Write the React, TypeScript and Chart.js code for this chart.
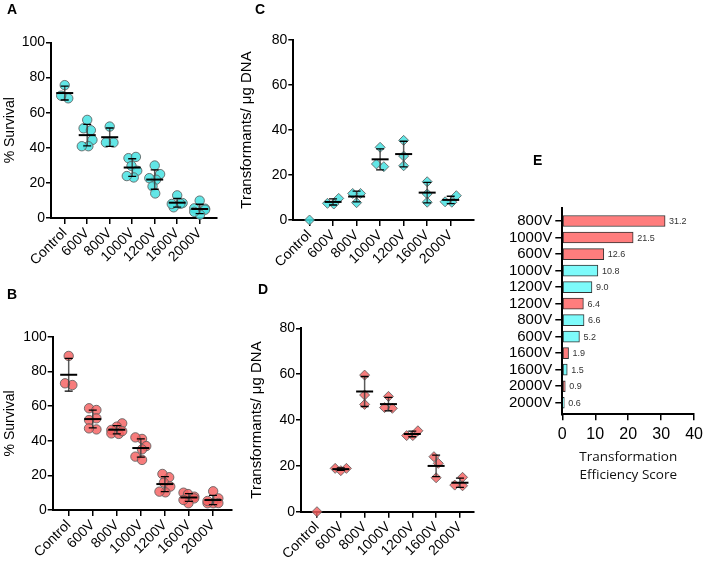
import React, { useEffect, useRef } from 'react';
import { Chart, registerables } from 'chart.js';

Chart.register(...registerables);

// ---------------- DATA ----------------
const groups = ['Control', '600V', '800V', '1000V', '1200V', '1600V', '2000V'];

const survivalA = [
  [75.7, 68.2, 69.7],
  [55.9, 51.1, 50.0, 44.5, 40.9, 40.9],
  [52.1, 43.0, 43.0],
  [34.1, 34.8, 29.7, 26.9, 23.1, 23.9],
  [29.9, 25.0, 21.8, 22.7, 18.0, 14.0],
  [12.9, 8.5, 8.1, 6.1, 8.0],
  [9.9, 5.3, 4.7, 1.9, 5.5, 3.5],
];

const survivalB = [
  [88.9, 72.1, 73.1],
  [58.7, 57.7, 52.9, 51.9, 46.5, 47.1],
  [50.0, 48.1, 46.2, 44.2, 43.9, 45.5],
  [41.0, 41.9, 36.9, 35.0, 30.8, 28.9],
  [18.9, 20.8, 15.8, 13.5, 10.2, 10.6],
  [10.0, 9.2, 7.7, 6.7, 3.9, 5.8],
  [10.8, 6.7, 3.9, 3.9, 4.0, 5.2],
];

const transformC = [
  [0],
  [9.6, 7.1, 7.4],
  [11.8, 11.8, 7.7],
  [32.3, 23.7, 24.9],
  [35.4, 28.4, 24.1],
  [17.0, 11.6, 7.9],
  [10.8, 7.9, 8.1],
];

const transformD = [
  [0],
  [18.9, 17.9, 18.9],
  [59.6, 50.9, 46.8],
  [50.3, 45.1, 45.4],
  [35.3, 33.2, 33.2],
  [24.0, 21.1, 14.8],
  [15.0, 11.3, 11.6],
];

const survivalTicks = [0, 20, 40, 60, 80, 100];
const transformTicks = [0, 20, 40, 60, 80];

const scoreLabels = ['800V', '1000V', '600V', '1000V', '1200V', '1200V', '800V', '600V', '1600V', '1600V', '2000V', '2000V'];
const scoreValues = [31.2, 21.5, 12.6, 10.8, 9.0, 6.4, 6.6, 5.2, 1.9, 1.5, 0.9, 0.6];
const scoreStrain = ['B', 'B', 'B', 'A', 'A', 'B', 'A', 'A', 'B', 'A', 'B', 'A'];
const scoreTicks = [0, 10, 20, 30, 40];

// ---------------- STYLE / LAYOUT ----------------
const FONT = '"Liberation Sans", Arial, Helvetica, sans-serif';
const CYAN = 'rgba(70,226,226,0.85)';
const RED = 'rgba(245,95,95,0.82)';
const PT_BORDER = 'rgba(95,95,95,0.85)';
const BAR_RED = '#ff7d7d';
const BAR_CYAN = '#7dfbfb';

type Box = { left: number; top: number; w: number; h: number };
type Area = { l: number; r: number; t: number; b: number };

function meanSd(vals: number[]) {
  const n = vals.length;
  const m = vals.reduce((a, b) => a + b, 0) / n;
  const sd = n > 1 ? Math.sqrt(vals.reduce((a, v) => a + (v - m) * (v - m), 0) / (n - 1)) : 0;
  return { m, sd, n };
}

// deterministic beeswarm layout (pixels), re-centred and kept narrow
function swarm(vals: number[], pxX: number, pxY: number, D: number, maxOff: number): number[] {
  const idx = vals.map((_, i) => i).sort((a, b) => vals[a] - vals[b]);
  const px: number[] = new Array(vals.length).fill(0);
  const placed: number[] = [];
  let side = -1;
  idx.forEach((pi) => {
    const py = vals[pi] * pxY;
    const cands = [0];
    placed.forEach((pj) => {
      const dy = py - vals[pj] * pxY;
      if (Math.abs(dy) < D) {
        const dx = Math.sqrt(D * D - dy * dy);
        cands.push(px[pj] + dx, px[pj] - dx);
      }
    });
    const ok = cands.filter((cx) =>
      placed.every((pj) => {
        const dx = cx - px[pj];
        const dy = py - vals[pj] * pxY;
        return dx * dx + dy * dy >= D * D - 0.01;
      })
    );
    ok.sort((a, b) => Math.abs(a) - Math.abs(b) || (side < 0 ? a - b : b - a));
    px[pi] = ok[0];
    if (ok[0] !== 0) side = -Math.sign(ok[0]);
    placed.push(pi);
  });
  let comp: number[] = [];
  const flush = () => {
    if (comp.length > 1) {
      const mx = comp.reduce((a, pi) => a + px[pi], 0) / comp.length;
      comp.forEach((pi) => (px[pi] -= mx));
    }
    comp = [];
  };
  idx.forEach((pi, k) => {
    if (k > 0 && (vals[pi] - vals[idx[k - 1]]) * pxY >= D) flush();
    comp.push(pi);
  });
  flush();
  return px.map((v) => Math.max(-maxOff, Math.min(maxOff, v)) / pxX);
}

const errorBarPlugin = (data: number[][]) => ({
  id: 'errorBars',
  afterDatasetsDraw(chart: any) {
    const { ctx } = chart;
    const x = chart.scales.x;
    const y = chart.scales.y;
    ctx.save();
    data.forEach((vals, i) => {
      if (vals.length < 2) return;
      const { m, sd } = meanSd(vals);
      const cx = x.getPixelForValue(i);
      const yt = y.getPixelForValue(m + sd);
      const yb = y.getPixelForValue(Math.max(m - sd, 0));
      const ym = y.getPixelForValue(m);
      ctx.lineCap = 'butt';
      ctx.strokeStyle = 'rgba(60,60,60,0.85)';
      ctx.lineWidth = 1.5;
      ctx.beginPath();
      ctx.moveTo(cx, yt);
      ctx.lineTo(cx, yb);
      ctx.stroke();
      ctx.strokeStyle = '#000';
      ctx.lineWidth = 1.3;
      ctx.beginPath();
      ctx.moveTo(cx - 4, yt);
      ctx.lineTo(cx + 4, yt);
      ctx.moveTo(cx - 4, yb);
      ctx.lineTo(cx + 4, yb);
      ctx.stroke();
      ctx.lineWidth = 2;
      ctx.beginPath();
      ctx.moveTo(cx - 8.5, ym);
      ctx.lineTo(cx + 8.5, ym);
      ctx.stroke();
    });
    ctx.restore();
  },
});

type DotPanel = {
  box: Box;
  area: Area;
  xMin: number;
  xMax: number;
  yMax: number;
  yTicks: number[];
  data: number[][];
  color: string;
  style: string;
  radius: number;
  title: string;
  titleSize: number;
  titleOffset: number;
};

function dotConfig(p: DotPanel) {
  const pxX = (p.area.r - p.area.l) / (p.xMax - p.xMin);
  const pxY = (p.area.b - p.area.t) / p.yMax;
  const points: { x: number; y: number }[] = [];
  p.data.forEach((vals, i) => {
    const off = swarm(vals, pxX, pxY, p.radius * 1.6, p.radius * 1.15);
    vals.forEach((v, k) => points.push({ x: i + off[k], y: v }));
  });
  const yWidth = p.area.l - p.box.left;
  const xHeight = p.box.top + p.box.h - p.area.b;
  return {
    type: 'scatter',
    data: {
      datasets: [
        {
          data: points,
          pointStyle: p.style,
          pointRadius: p.radius,
          backgroundColor: p.color,
          borderColor: PT_BORDER,
          borderWidth: 1,
          clip: false,
        },
      ],
    },
    options: {
      responsive: false,
      animation: false,
      events: [],
      layout: {
        padding: {
          left: 0,
          top: p.area.t - p.box.top,
          right: p.box.left + p.box.w - p.area.r,
          bottom: 0,
        },
      },
      plugins: { legend: { display: false }, tooltip: { enabled: false } },
      scales: {
        x: {
          type: 'linear',
          min: p.xMin,
          max: p.xMax,
          offset: false,
          afterBuildTicks: (s: any) => {
            s.ticks = groups.map((_, i) => ({ value: i }));
          },
          afterFit: (s: any) => {
            s.height = xHeight;
          },
          ticks: {
            callback: (v: number) => groups[v] ?? '',
            autoSkip: false,
            minRotation: 45,
            maxRotation: 45,
            padding: 1,
            color: '#000',
            font: { family: FONT, size: 14 },
          },
          grid: { offset: false, drawOnChartArea: false, drawTicks: true, tickLength: 6, color: '#000', lineWidth: 1.5 },
          border: { color: '#000', width: 2 },
        },
        y: {
          type: 'linear',
          min: 0,
          max: p.yMax,
          afterBuildTicks: (s: any) => {
            s.ticks = p.yTicks.map((v) => ({ value: v }));
          },
          afterFit: (s: any) => {
            s.width = yWidth;
          },
          ticks: {
            padding: 1,
            color: '#000',
            font: { family: FONT, size: 14 },
          },
          grid: { drawOnChartArea: false, drawTicks: true, tickLength: 5, color: '#000', lineWidth: 1.5 },
          border: { color: '#000', width: 2 },
          title: {
            display: true,
            text: p.title,
            color: '#000',
            font: { family: FONT, size: p.titleSize },
            padding: { top: p.titleOffset, bottom: 0 },
          },
        },
      },
    },
    plugins: [errorBarPlugin(p.data)],
  };
}

function barConfig(box: Box, area: Area, yMin: number, yMax: number) {
  const yWidth = area.l - box.left;
  const xHeight = box.top + box.h - area.b;
  const valueLabels = {
    id: 'valueLabels',
    afterDatasetsDraw(chart: any) {
      const { ctx } = chart;
      const meta = chart.getDatasetMeta(0);
      ctx.save();
      ctx.font = `9px ${FONT}`;
      ctx.fillStyle = '#333';
      ctx.textBaseline = 'middle';
      ctx.textAlign = 'left';
      meta.data.forEach((bar: any, i: number) => {
        ctx.fillText(scoreValues[i].toFixed(1), bar.x + 4, bar.y + 0.5);
      });
      ctx.restore();
    },
  };
  return {
    type: 'bar',
    data: {
      datasets: [
        {
          data: scoreValues.map((v, i) => ({ x: v, y: i })),
          backgroundColor: scoreStrain.map((s) => (s === 'B' ? BAR_RED : BAR_CYAN)),
          borderColor: '#333',
          borderWidth: 1,
          borderSkipped: false,
          barThickness: 11,
        },
      ],
    },
    options: {
      indexAxis: 'y',
      responsive: false,
      animation: false,
      events: [],
      layout: {
        padding: {
          left: 0,
          top: area.t - box.top,
          right: box.left + box.w - area.r,
          bottom: 0,
        },
      },
      plugins: { legend: { display: false }, tooltip: { enabled: false } },
      scales: {
        x: {
          type: 'linear',
          min: 0,
          max: 40,
          offset: false,
          afterBuildTicks: (s: any) => {
            s.ticks = scoreTicks.map((v) => ({ value: v }));
          },
          afterFit: (s: any) => {
            s.height = xHeight;
          },
          ticks: { padding: 5, color: '#000', font: { family: FONT, size: 16 }, maxRotation: 0 },
          grid: { offset: false, drawOnChartArea: false, drawTicks: true, tickLength: 6, color: '#000', lineWidth: 1.5 },
          border: { color: '#000', width: 2 },
          title: {
            display: true,
            text: ['Transformation', 'Efficiency Score'],
            color: '#111',
            font: { family: '"Open Sans", Lato, sans-serif', size: 13.5, lineHeight: 1.356 },
            padding: { top: 0, bottom: 5.8 },
          },
        },
        y: {
          type: 'linear',
          reverse: true,
          min: yMin,
          max: yMax,
          offset: false,
          afterBuildTicks: (s: any) => {
            s.ticks = scoreLabels.map((_, i) => ({ value: i }));
          },
          afterFit: (s: any) => {
            s.width = yWidth;
          },
          ticks: {
            callback: (v: number) => scoreLabels[v] ?? '',
            autoSkip: false,
            padding: 3,
            color: '#000',
            font: { family: FONT, size: 15 },
          },
          grid: { offset: false, drawOnChartArea: false, drawTicks: true, tickLength: 7, color: '#000', lineWidth: 1.5 },
          border: { color: '#000', width: 2 },
        },
      },
    },
    plugins: [valueLabels],
  };
}

function ChartBox({ box, makeConfig }: { box: Box; makeConfig: () => any }) {
  const ref = useRef<HTMLCanvasElement | null>(null);
  useEffect(() => {
    if (!ref.current) return;
    const chart = new Chart(ref.current, makeConfig());
    return () => chart.destroy();
  }, []);
  return (
    <canvas
      ref={ref}
      width={box.w}
      height={box.h}
      style={{ position: 'absolute', left: box.left, top: box.top, width: box.w, height: box.h }}
    />
  );
}

const boxA: Box = { left: 0, top: 0, w: 230, h: 280 };
const boxB: Box = { left: 0, top: 280, w: 240, h: 289 };
const boxC: Box = { left: 230, top: 0, w: 250, h: 280 };
const boxD: Box = { left: 230, top: 280, w: 250, h: 289 };
const boxE: Box = { left: 480, top: 140, w: 228, h: 350 };

const panelLetter = (t: string, x: number, y: number) => (
  <div
    key={t}
    style={{
      position: 'absolute',
      left: x,
      top: y,
      font: `bold 14px ${FONT}`,
      color: '#000',
      lineHeight: '16px',
    }}
  >
    {t}
  </div>
);

export default function App() {
  return (
    <div style={{ position: 'absolute', left: 0, top: 0, width: 708, height: 569, background: '#fff', overflow: 'hidden' }}>
      <ChartBox
        box={boxA}
        makeConfig={() =>
          dotConfig({
            box: boxA,
            area: { l: 51, r: 217, t: 42.5, b: 218 },
            xMin: -0.61,
            xMax: 6.77,
            yMax: 100,
            yTicks: survivalTicks,
            data: survivalA,
            color: CYAN,
            style: 'circle',
            radius: 4.7,
            title: '% Survival',
            titleSize: 14,
            titleOffset: 1.6,
          })
        }
      />
      <ChartBox
        box={boxB}
        makeConfig={() =>
          dotConfig({
            box: boxB,
            area: { l: 52.7, r: 231.7, t: 336.7, b: 510 },
            xMin: -0.665,
            xMax: 6.78,
            yMax: 100,
            yTicks: survivalTicks,
            data: survivalB,
            color: RED,
            style: 'circle',
            radius: 4.7,
            title: '% Survival',
            titleSize: 14,
            titleOffset: 1.6,
          })
        }
      />
      <ChartBox
        box={boxC}
        makeConfig={() =>
          dotConfig({
            box: boxC,
            area: { l: 293.3, r: 478, t: 40, b: 220 },
            xMin: -0.69,
            xMax: 6.99,
            yMax: 80,
            yTicks: transformTicks,
            data: transformC,
            color: CYAN,
            style: 'rectRot',
            radius: 5,
            title: 'Transformants/ μg DNA',
            titleSize: 15,
            titleOffset: 7.7,
          })
        }
      />
      <ChartBox
        box={boxD}
        makeConfig={() =>
          dotConfig({
            box: boxD,
            area: { l: 301, r: 478, t: 328.3, b: 511.7 },
            xMin: -0.67,
            xMax: 6.59,
            yMax: 80,
            yTicks: transformTicks,
            data: transformD,
            color: RED,
            style: 'rectRot',
            radius: 5,
            title: 'Transformants/ μg DNA',
            titleSize: 15,
            titleOffset: 18,
          })
        }
      />
      <ChartBox box={boxE} makeConfig={() => barConfig(boxE, { l: 562.3, r: 699.7, t: 208.3, b: 414.3 }, -0.77, 11.7)} />
      {panelLetter('A', 7, 1)}
      {panelLetter('B', 7, 286)}
      {panelLetter('C', 255, 1)}
      {panelLetter('D', 258, 281)}
      {panelLetter('E', 533, 152)}
    </div>
  );
}
